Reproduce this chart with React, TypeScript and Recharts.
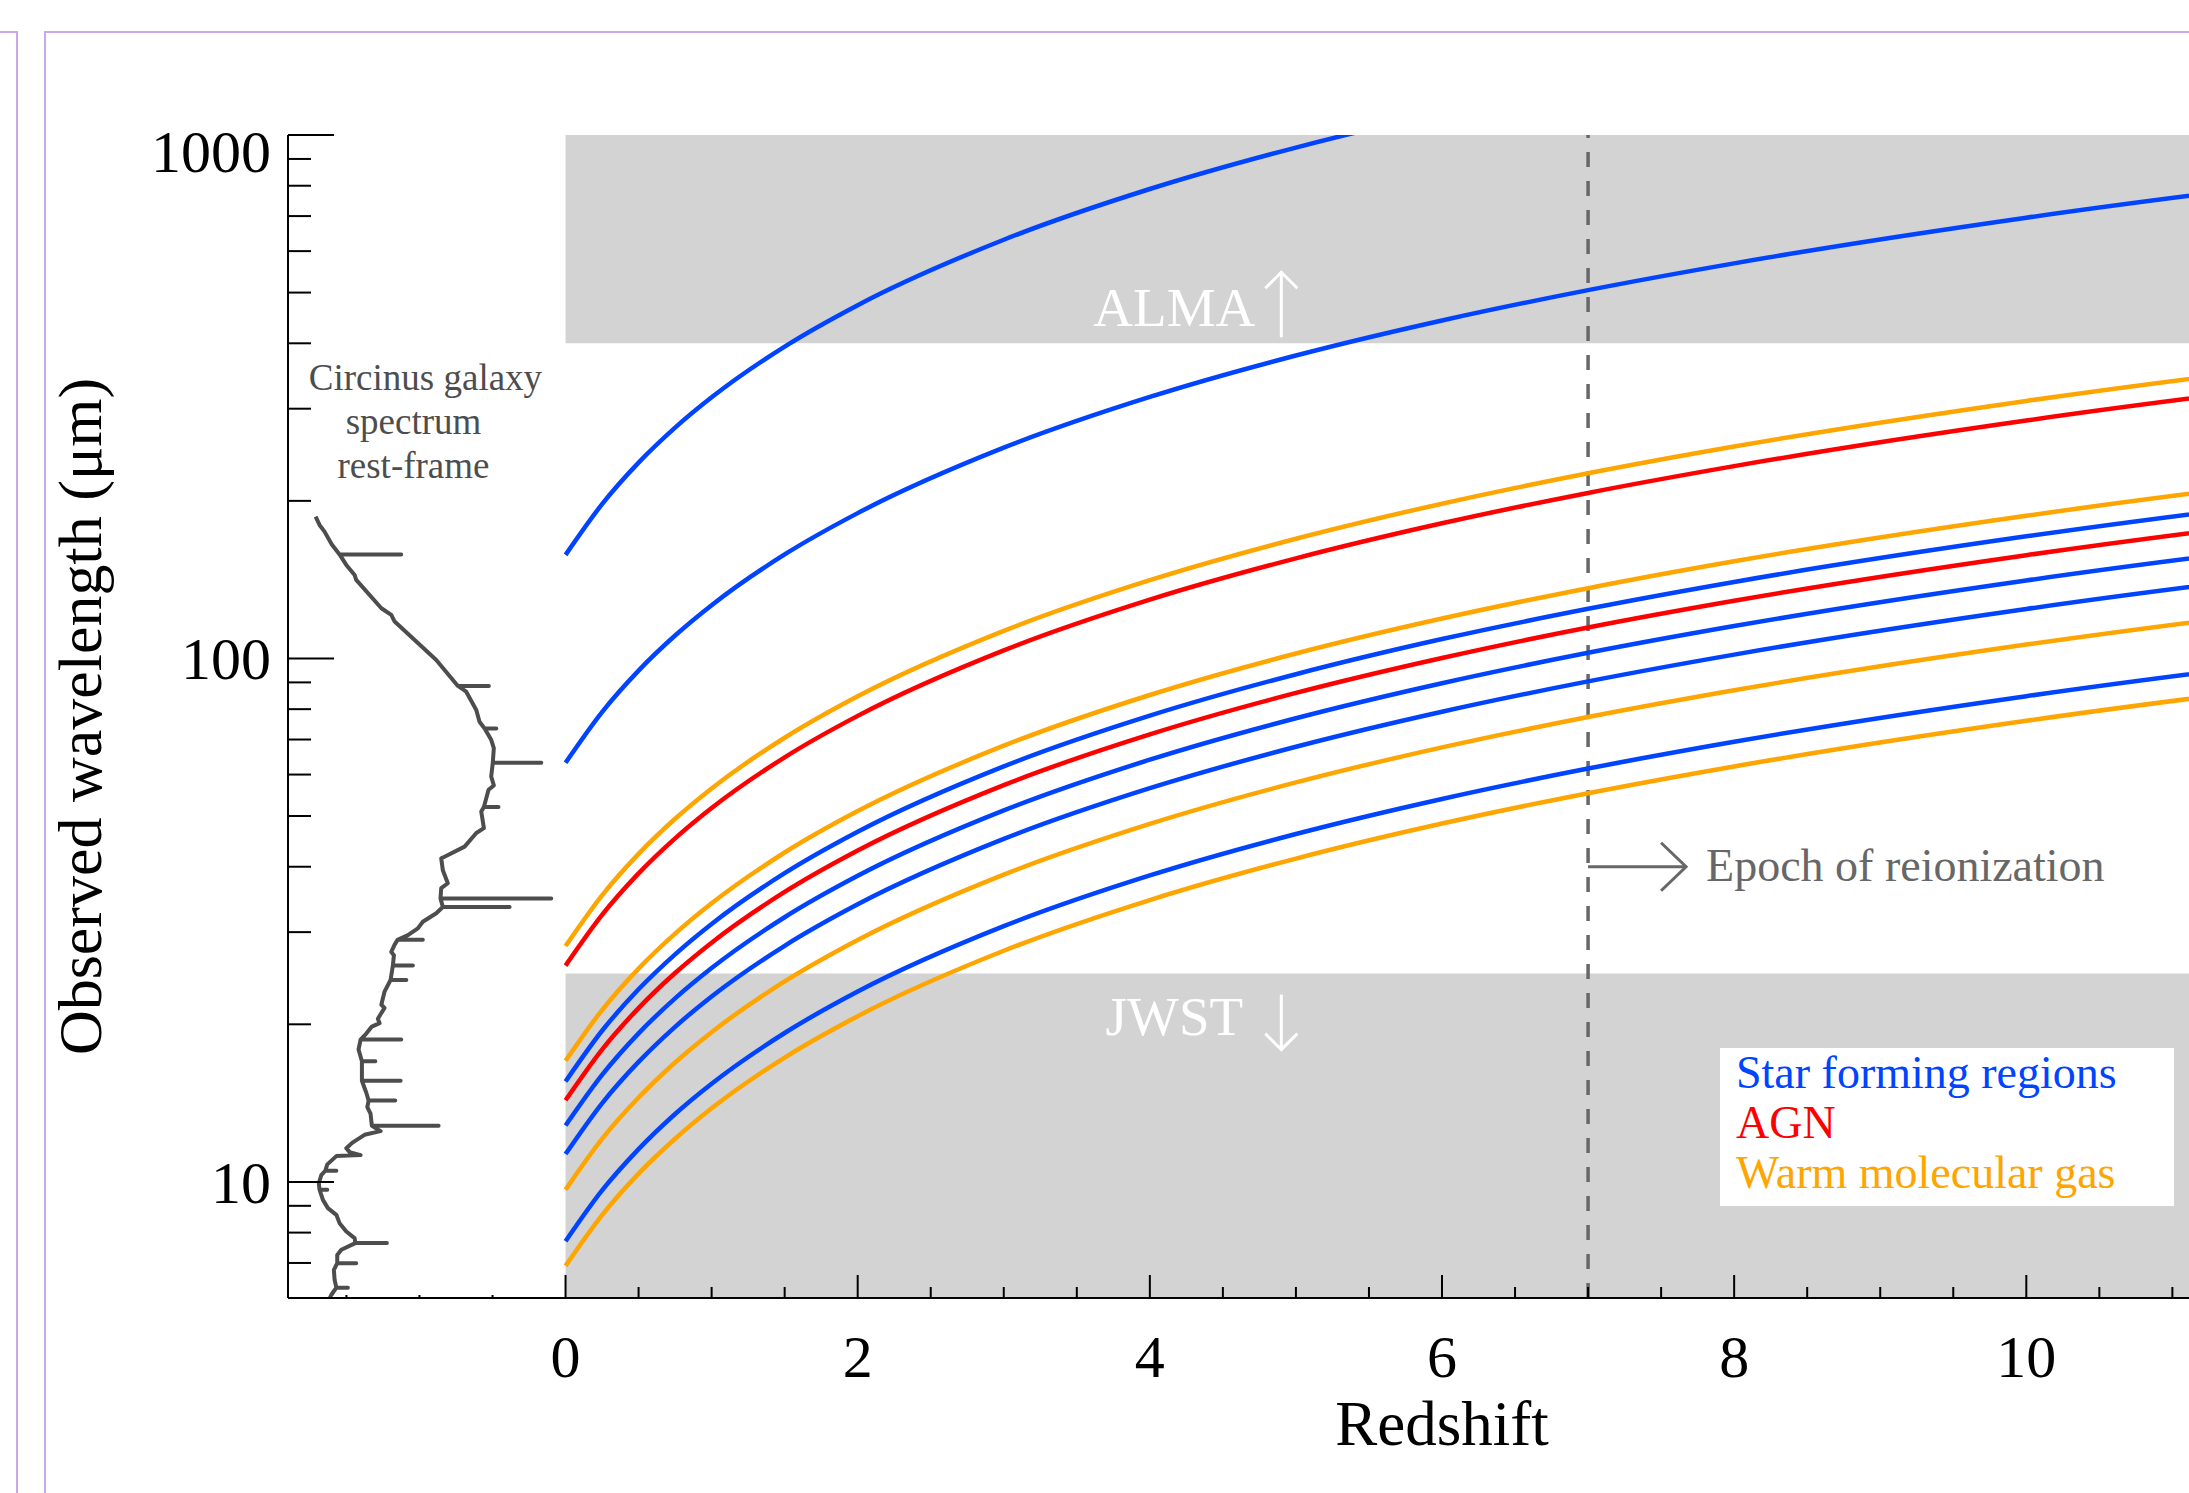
import React from "react"
import {
  ComposedChart,
  Line,
  XAxis,
  YAxis,
  ReferenceArea,
  ReferenceLine,
  ReferenceDot,
  Legend,
} from "recharts"

const BLUE = "#0044ff"
const RED = "#ff0000"
const ORANGE = "#ffa500"
const BAND = "#d3d3d3"
const GREY = "#676767"
const FONT = "'Liberation Serif', 'Times New Roman', serif"

// redshift samples for the line tracks
const redshifts = [0, 0.25, 0.5, 0.75, 1, 1.5, 2, 3, 4, 5, 6, 7, 8, 10, 12, 14]

// observed wavelength (um) of each emission line at the redshifts above
// star forming regions
const cii158 = [157.7, 197.1, 236.6, 276.0, 315.4, 394.3, 473.1, 630.8, 788.5, 946.2, 1104, 1262, 1419, 1735, 2050, 2366]
const oi63 = [63.2, 79.0, 94.8, 110.6, 126.4, 158.0, 189.5, 252.7, 315.9, 379.1, 442.3, 505.4, 568.6, 695.0, 821.3, 947.7]
const neiii15 = [15.55, 19.44, 23.33, 27.21, 31.1, 38.88, 46.65, 62.2, 77.75, 93.3, 108.9, 124.4, 140.0, 171.1, 202.2, 233.3]
const neii13 = [12.81, 16.01, 19.22, 22.42, 25.62, 32.03, 38.43, 51.24, 64.05, 76.86, 89.67, 102.5, 115.3, 140.9, 166.5, 192.2]
const pah11 = [11.3, 14.13, 16.95, 19.78, 22.6, 28.25, 33.9, 45.2, 56.5, 67.8, 79.1, 90.4, 101.7, 124.3, 146.9, 169.5]
const pah8 = [7.7, 9.63, 11.55, 13.48, 15.4, 19.25, 23.1, 30.8, 38.5, 46.2, 53.9, 61.6, 69.3, 84.7, 100.1, 115.5]
// AGN
const oiv26 = [25.89, 32.36, 38.84, 45.31, 51.78, 64.73, 77.67, 103.6, 129.5, 155.3, 181.2, 207.1, 233.0, 284.8, 336.6, 388.4]
const nev14 = [14.32, 17.9, 21.48, 25.06, 28.64, 35.8, 42.96, 57.28, 71.6, 85.92, 100.2, 114.6, 128.9, 157.5, 186.2, 214.8]
// warm molecular gas
const h2s0 = [28.22, 35.28, 42.33, 49.39, 56.44, 70.55, 84.66, 112.9, 141.1, 169.3, 197.5, 225.8, 254.0, 310.4, 366.9, 423.3]
const h2s1 = [17.03, 21.29, 25.55, 29.8, 34.06, 42.58, 51.09, 68.12, 85.15, 102.2, 119.2, 136.2, 153.3, 187.3, 221.4, 255.5]
const h2s3 = [9.66, 12.08, 14.49, 16.91, 19.32, 24.15, 28.98, 38.64, 48.3, 57.96, 67.62, 77.28, 86.94, 106.3, 125.6, 144.9]
const h2s5 = [6.91, 8.64, 10.37, 12.09, 13.82, 17.28, 20.73, 27.64, 34.55, 41.46, 48.37, 55.28, 62.19, 76.01, 89.83, 103.7]

const starForming = [cii158, oi63, neiii15, neii13, pah11, pah8]
const agn = [oiv26, nev14]
const warmGas = [h2s0, h2s1, h2s3, h2s5]

// Circinus rest-frame spectrum, drawn sideways left of z=0 (flux in redshift-axis units)
const spectrumFlux = [
  -1.711, -1.684, -1.65, -1.6, -1.547, -1.125, -1.547, -1.501, -1.444, -1.433, -1.261, -1.193, -1.17, -0.885,
  -0.737, -0.525, -0.737, -0.68, -0.611, -0.589, -0.554, -0.474, -0.554, -0.509, -0.491, -0.498, -0.166, -0.498,
  -0.509, -0.491, -0.527, -0.559, -0.459, -0.559, -0.577, -0.559, -0.611, -0.691, -0.828, -0.851, -0.84, -0.806,
  -0.851, -0.856, -0.098, -0.856, -0.84, -0.383, -0.84, -0.885, -0.977, -1.011, -1.079, -1.15, -0.977, -1.15,
  -1.17, -1.193, -1.175, -1.182, -1.045, -1.182, -1.198, -1.09, -1.198, -1.239, -1.261, -1.239, -1.285, -1.273,
  -1.326, -1.364, -1.403, -1.125, -1.403, -1.417, -1.394, -1.302, -1.394, -1.394, -1.129, -1.394, -1.364, -1.348,
  -1.166, -1.348, -1.357, -1.335, -1.326, -0.869, -1.326, -1.266, -1.376, -1.456, -1.501, -1.478, -1.403, -1.569,
  -1.631, -1.645, -1.569, -1.645, -1.672, -1.689, -1.684, -1.631, -1.684, -1.661, -1.627, -1.569, -1.547, -1.501,
  -1.444, -1.439, -1.223, -1.439, -1.535, -1.563, -1.563, -1.433, -1.563, -1.586, -1.581, -1.569, -1.49, -1.569,
  -1.604, -1.62,
]
const spectrumWavelength = [
  186.6, 179.9, 174.7, 165, 158, 158, 158, 150.9, 144.4, 141.3, 124.7, 121.1, 117.6, 99.3,
  88.6, 88.6, 88.6, 86.4, 79.7, 75.7, 73.5, 73.5, 73.5, 69.9, 67.4, 63.2, 63.2, 63.2,
  59.5, 57.2, 56.1, 52.0, 52.0, 52.0, 51.0, 47.4, 46.4, 43.7, 41.8, 41.5, 39.4, 37.2,
  36.4, 34.8, 34.8, 34.8, 33.5, 33.5, 33.5, 32.6, 31.4, 30.5, 29.6, 29.0, 29.0, 29.0,
  28.4, 27.5, 27.1, 25.9, 25.9, 25.9, 24.3, 24.3, 24.3, 23.1, 21.8, 21.5, 20.5, 20.1,
  19.8, 19.2, 18.7, 18.7, 18.7, 17.9, 17.0, 17.0, 17.0, 15.6, 15.6, 15.6, 14.8, 14.3,
  14.3, 14.3, 13.9, 13.5, 12.8, 12.8, 12.8, 12.5, 12.3, 11.9, 11.6, 11.4, 11.25, 11.2,
  10.8, 10.5, 10.5, 10.5, 10.3, 9.94, 9.66, 9.66, 9.66, 9.24, 8.91, 8.65, 8.34, 8.04,
  7.81, 7.64, 7.64, 7.64, 7.42, 7.25, 6.99, 6.99, 6.99, 6.79, 6.5, 6.28, 6.28, 6.28,
  6.08, 5.95,
]

// axes
const redshiftTicks = [
  -1.5, -1, -0.5, 0, 0.5, 1, 1.5, 2, 2.5, 3, 3.5, 4, 4.5, 5, 5.5, 6, 6.5, 7, 7.5, 8, 8.5, 9, 9.5, 10, 10.5, 11,
  11.5, 12, 12.5, 13, 13.5,
]
const redshiftLabels = [0, 2, 4, 6, 8, 10]
const wavelengthTicks = [
  6, 7, 8, 9, 10, 20, 30, 40, 50, 60, 70, 80, 90, 100, 200, 300, 400, 500, 600, 700, 800, 900, 1000,
]
const wavelengthLabels = [10, 100, 1000]

const legendItems = [
  { label: "Star forming regions", color: BLUE },
  { label: "AGN", color: RED },
  { label: "Warm molecular gas", color: ORANGE },
]

const series = [
  ...starForming.map((v) => ({ values: v, color: BLUE })),
  ...agn.map((v) => ({ values: v, color: RED })),
  ...warmGas.map((v) => ({ values: v, color: ORANGE })),
]

const spectrumData = spectrumFlux.map((z, i) => ({ z, lam: spectrumWavelength[i] }))

const isMajorZ = (v: number) => v >= 0 && v % 2 === 0

function BottomTick({ x, y, payload }: any) {
  const v = payload.value as number
  const len = v < 0 ? 3 : isMajorZ(v) ? 23 : 11
  return (
    <g>
      <line x1={x} x2={x} y1={y} y2={y - len} stroke="#000" strokeWidth={2} />
      {redshiftLabels.includes(v) && (
        <text x={x} y={y + 79} textAnchor="middle" fontSize={60} fontFamily={FONT} fill="#000">
          {v}
        </text>
      )}
    </g>
  )
}

function TopTick({ x, y, payload }: any) {
  const v = payload.value as number
  const len = v < 0 ? 3 : isMajorZ(v) ? 23 : 11
  return <line x1={x} x2={x} y1={y} y2={y + len} stroke="#000" strokeWidth={2} />
}

function LeftTick({ x, y, payload }: any) {
  const v = payload.value as number
  const major = wavelengthLabels.includes(v)
  return (
    <g>
      <line x1={x} x2={x + (major ? 46 : 23)} y1={y} y2={y} stroke="#000" strokeWidth={2} />
      {major && (
        <text x={x - 17} y={y + (v === 1000 ? 37 : 21)} textAnchor="end" fontSize={60} fontFamily={FONT} fill="#000">
          {v}
        </text>
      )}
    </g>
  )
}

function BandNote({ cx, cy, text, up }: any) {
  const s = up ? -1 : 1
  const a = up ? -6 : 21
  const b = up ? -71 : 76
  return (
    <g>
      <text
        x={cx - 107}
        y={up ? cy - 17 : cy + 61}
        textAnchor="middle"
        fontSize={55}
        fontFamily={FONT}
        fill="#fff"
      >
        {text}
      </text>
      <line x1={cx} x2={cx} y1={cy + a} y2={cy + b} stroke="#fff" strokeWidth={3} />
      <polyline
        points={`${cx - 16},${cy + b - s * 16} ${cx},${cy + b} ${cx + 16},${cy + b - s * 16}`}
        fill="none"
        stroke="#fff"
        strokeWidth={3}
      />
    </g>
  )
}

function EpochNote({ cx, cy }: any) {
  return (
    <g>
      <line x1={cx} x2={cx + 98} y1={cy} y2={cy} stroke={GREY} strokeWidth={3} />
      <polyline
        points={`${cx + 73},${cy - 24} ${cx + 98},${cy} ${cx + 73},${cy + 24}`}
        fill="none"
        stroke={GREY}
        strokeWidth={3}
      />
      <text x={cx + 118} y={cy + 14} fontSize={46} fontFamily={FONT} fill={GREY}>
        Epoch of reionization
      </text>
    </g>
  )
}

function SpectrumNote({ cx, cy }: any) {
  const common = { fontSize: 37, fontFamily: FONT, fill: "#4d4d4d", textAnchor: "middle" as const }
  return (
    <g>
      <text x={cx + 6} y={cy + 3} {...common}>
        Circinus galaxy
      </text>
      <text x={cx - 6} y={cy + 47} {...common}>
        spectrum
      </text>
      <text x={cx - 6} y={cy + 91} {...common}>
        rest-frame
      </text>
    </g>
  )
}

function LegendBox() {
  return (
    <div
      style={{
        background: "#fff",
        width: 438,
        height: 158,
        paddingLeft: 16,
        fontFamily: FONT,
        fontSize: 46,
        lineHeight: "50px",
        boxSizing: "content-box",
      }}
    >
      {legendItems.map((it) => (
        <div key={it.label} style={{ color: it.color, whiteSpace: "nowrap" }}>
          {it.label}
        </div>
      ))}
    </div>
  )
}

export default function App() {
  return (
    <div
      style={{
        position: "fixed",
        left: 0,
        top: 0,
        width: 2189,
        height: 1493,
        overflow: "hidden",
        background: "#fff",
        fontFamily: FONT,
      }}
    >
      {/* page frames */}
      <div style={{ position: "absolute", left: 0, top: 31, width: 16, height: 2000, borderTop: "2px solid #c9a8e6", borderRight: "2px solid #c9a8e6" }} />
      <div style={{ position: "absolute", left: 44, top: 31, width: 3000, height: 2000, borderTop: "2px solid #c9a8e6", borderLeft: "2px solid #c9a8e6" }} />
      <div style={{ position: "absolute", left: 0, top: 0 }}>
        <ComposedChart width={2700} height={1493} margin={{ top: 135, right: 104, bottom: 45, left: 0 }}>
          <ReferenceArea x1={0} x2={13.9} y1={400} y2={1000} fill={BAND} fillOpacity={1} stroke="none" />
          <ReferenceArea x1={0} x2={13.9} y1={6} y2={25} fill={BAND} fillOpacity={1} stroke="none" />
          <ReferenceLine x={7} stroke={GREY} strokeWidth={3.5} strokeDasharray="15 14" />
          <XAxis
            dataKey="z"
            type="number"
            domain={[-1.9, 13.9]}
            allowDataOverflow
            ticks={redshiftTicks}
            interval={0}
            tick={BottomTick}
            tickLine={false}
            tickSize={0}
            tickMargin={0}
            height={150}
            axisLine={{ stroke: "#000", strokeWidth: 2 }}
            label={{
              content: (p: any) => (
                <text
                  x={p.viewBox.x + p.viewBox.width / 2}
                  y={p.viewBox.y + 147}
                  textAnchor="middle"
                  fontSize={63}
                  fontFamily={FONT}
                  fill="#000"
                >
                  Redshift
                </text>
              ),
            }}
          />
          <XAxis
            xAxisId="top"
            orientation="top"
            dataKey="z"
            type="number"
            domain={[-1.9, 13.9]}
            allowDataOverflow
            ticks={redshiftTicks}
            interval={0}
            tick={TopTick}
            tickLine={false}
            tickSize={0}
            tickMargin={0}
            height={0}
            axisLine={{ stroke: "#000", strokeWidth: 2 }}
          />
          <YAxis
            type="number"
            scale="log"
            domain={[6, 1000]}
            allowDataOverflow
            ticks={wavelengthTicks}
            interval={0}
            tick={LeftTick}
            tickLine={false}
            tickSize={0}
            tickMargin={0}
            width={288}
            axisLine={{ stroke: "#000", strokeWidth: 2 }}
            label={{
              content: (p: any) => {
                const cx = p.viewBox.x + 101
                const cy = p.viewBox.y + p.viewBox.height / 2
                return (
                  <text
                    x={cx}
                    y={cy}
                    transform={`rotate(-90 ${cx} ${cy})`}
                    textAnchor="middle"
                    fontSize={62}
                    fontFamily={FONT}
                    fill="#000"
                  >
                    Observed wavelength (μm)
                  </text>
                )
              },
            }}
          />
          <Line
            data={spectrumData}
            dataKey="lam"
            type="linear"
            stroke="#4d4d4d"
            strokeWidth={4}
            strokeLinejoin="round"
            dot={false}
            activeDot={false}
            isAnimationActive={false}
          />
          {series.map((s, i) => (
            <Line
              key={i}
              data={redshifts.map((z, j) => ({ z, lam: s.values[j] }))}
              dataKey="lam"
              type="monotone"
              stroke={s.color}
              strokeWidth={4.5}
              dot={false}
              activeDot={false}
              isAnimationActive={false}
            />
          ))}
          <ReferenceDot x={4.9} y={400} r={0} shape={(p: any) => <BandNote cx={p.cx} cy={p.cy} text="ALMA" up />} />
          <ReferenceDot x={4.9} y={25} r={0} shape={(p: any) => <BandNote cx={p.cx} cy={p.cy} text="JWST" />} />
          <ReferenceDot x={7} y={40} r={0} shape={(p: any) => <EpochNote cx={p.cx} cy={p.cy} />} />
          <ReferenceDot x={-1} y={330} r={0} shape={(p: any) => <SpectrumNote cx={p.cx} cy={p.cy} />} />
          <Legend
            layout="vertical"
            align="center"
            verticalAlign="middle"
            content={() => <LegendBox />}
            wrapperStyle={{ left: 1720, top: 1048, width: 454, height: 158 }}
          />
        </ComposedChart>
      </div>
    </div>
  )
}
